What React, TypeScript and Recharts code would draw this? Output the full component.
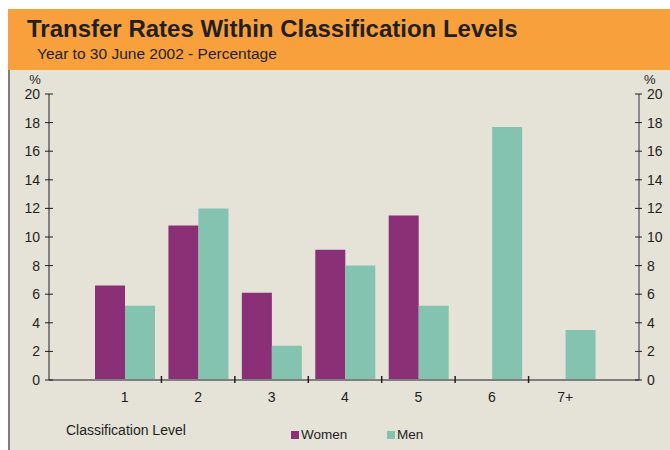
import React from 'react';
import { BarChart, Bar, XAxis, YAxis } from 'recharts';

// classification levels and transfer rates (%), year to 30 June 2002
const levels = ['1', '2', '3', '4', '5', '6', '7+'];
const women = [6.6, 10.8, 6.1, 9.1, 11.5, null, null];
const men = [5.2, 12.0, 2.4, 8.0, 5.2, 17.7, 3.5];
const yTicks = [0, 2, 4, 6, 8, 10, 12, 14, 16, 18, 20];

const series = [
  { key: 'Women', color: '#8B3077', axis: 'left' },
  { key: 'Men', color: '#84C3B0', axis: 'right' },
];

const data = levels.map((level, i) => ({ level, Women: women[i], Men: men[i] }));

const textColor = '#231F20';
const font = '"Liberation Sans", Arial, sans-serif';

const chartWidth = 662;
const chartHeight = 380;
const margin = { top: 24, right: 1, bottom: 40, left: 1 };
const leftAxisWidth = 40;
const rightAxisWidth = 30;
const plotWidth = chartWidth - margin.left - margin.right - leftAxisWidth - rightAxisWidth;
const xPadding = { left: 39, right: 37 };
const band = (plotWidth - xPadding.left - xPadding.right) / levels.length;

const LeftTick = (props: any) => {
  const { x, y, payload } = props;
  return (
    <g>
      <line x1={x - 4} x2={x + 4} y1={y} y2={y} stroke={textColor} strokeWidth={1} />
      <text x={x - 9} y={y + 5} textAnchor="end" fontSize={14} fontFamily={font} fill={textColor}>
        {payload.value}
      </text>
      {payload.value === 20 && (
        <text x={x - 14} y={y - 10} textAnchor="middle" fontSize={13} fontFamily={font} fill={textColor}>
          %
        </text>
      )}
    </g>
  );
};

const RightTick = (props: any) => {
  const { x, y, payload } = props;
  return (
    <g>
      <line x1={x - 4} x2={x + 3} y1={y} y2={y} stroke={textColor} strokeWidth={1} />
      <text x={x + 8} y={y + 5} textAnchor="start" fontSize={14} fontFamily={font} fill={textColor}>
        {payload.value}
      </text>
      {payload.value === 20 && (
        <text x={x + 5} y={y - 10} textAnchor="start" fontSize={13} fontFamily={font} fill={textColor}>
          %
        </text>
      )}
    </g>
  );
};

const CategoryTick = (props: any) => {
  const { x, y, payload, index } = props;
  return (
    <g>
      {index < levels.length - 1 && (
        <line x1={x + band / 2} x2={x + band / 2} y1={y - 4} y2={y + 3} stroke={textColor} strokeWidth={1.5} />
      )}
      <text x={x} y={y + 22} textAnchor="middle" fontSize={14} fontFamily={font} fill={textColor}>
        {payload.value}
      </text>
    </g>
  );
};

export default function App() {
  return (
    <div
      style={{
        position: 'absolute',
        left: 8,
        top: 9,
        width: 662,
        height: 441,
        background: '#E5E2D8',
        fontFamily: font,
        color: textColor,
        overflow: 'hidden',
      }}
    >
      <svg width={662} height={61} style={{ position: 'absolute', left: 0, top: 0, display: 'block' }}>
        <rect x={0} y={0} width={662} height={61} fill="#F8A13C" />
        <text x={19} y={28.3} fontSize={24} fontWeight="bold" fontFamily={font} fill={textColor}>
          Transfer Rates Within Classification Levels
        </text>
        <text x={29} y={49.7} fontSize={15.5} fontFamily={font} fill={textColor}>
          Year to 30 June 2002 - Percentage
        </text>
      </svg>
      <div style={{ position: 'absolute', left: 0, top: 61, width: 2, height: 380, background: '#7D7D7D' }} />

      <div style={{ position: 'absolute', left: 0, top: 61 }}>
        <BarChart width={chartWidth} height={chartHeight} data={data} margin={margin} barGap={0}>
          <XAxis
            dataKey="level"
            xAxisId="cat"
            height={30}
            interval={0}
            tickSize={0}
            tickMargin={0}
            tickLine={false}
            tick={<CategoryTick />}
            axisLine={{ stroke: '#7F7F7F', strokeWidth: 2 }}
            padding={xPadding}
          />
          <YAxis
            yAxisId="left"
            orientation="left"
            width={leftAxisWidth}
            domain={[0, 20]}
            ticks={yTicks}
            interval={0}
            tickSize={0}
            tickMargin={0}
            tickLine={false}
            tick={<LeftTick />}
            axisLine={{ stroke: textColor, strokeWidth: 1 }}
          />
          <YAxis
            yAxisId="right"
            orientation="right"
            width={rightAxisWidth}
            domain={[0, 20]}
            ticks={yTicks}
            interval={0}
            tickSize={0}
            tickMargin={0}
            tickLine={false}
            tick={<RightTick />}
            axisLine={{ stroke: '#8A8A8A', strokeWidth: 2 }}
          />
          {series.map((s) => (
            <Bar
              key={s.key}
              dataKey={s.key}
              xAxisId="cat"
              yAxisId={s.axis}
              fill={s.color}
              barSize={30}
              isAnimationActive={false}
            />
          ))}
        </BarChart>
      </div>

      <div style={{ position: 'absolute', left: 58, top: 413, fontSize: 14, lineHeight: '16px' }}>
        Classification Level
      </div>

      <div style={{ position: 'absolute', left: 283, top: 418, display: 'flex' }}>
        {series.map((s, i) => (
          <div
            key={s.key}
            style={{
              display: 'flex',
              alignItems: 'center',
              width: i === 0 ? 96 : 'auto',
              fontSize: 13.5,
              lineHeight: '16px',
            }}
          >
            <span style={{ display: 'inline-block', width: 8, height: 8, background: s.color, marginRight: 2 }} />
            {s.key}
          </div>
        ))}
      </div>
    </div>
  );
}
